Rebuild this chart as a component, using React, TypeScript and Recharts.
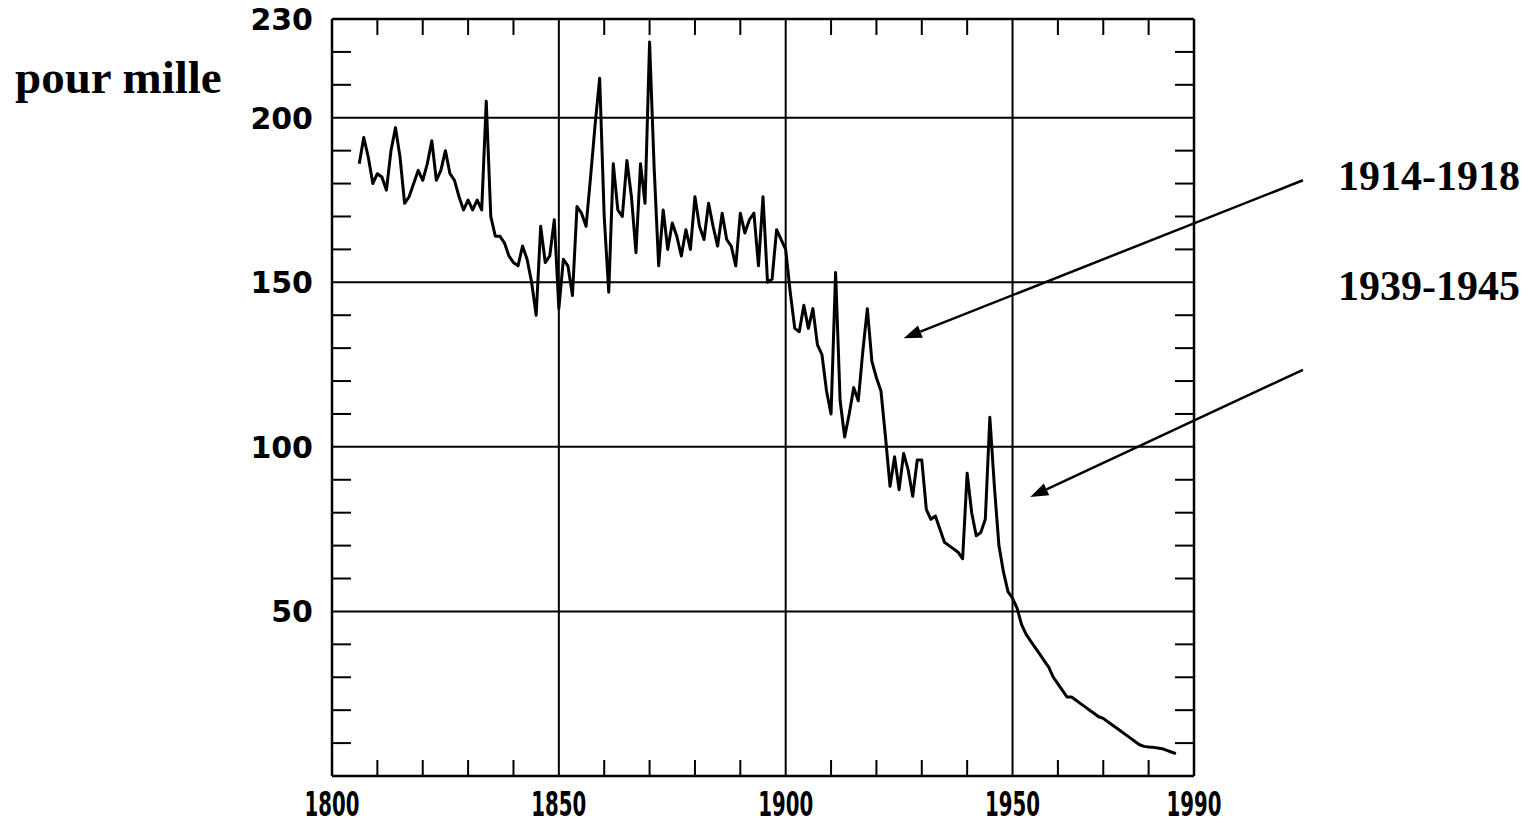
import { LineChart, Line, XAxis, YAxis, CartesianGrid, ReferenceLine } from "recharts";

// infant mortality, per thousand births, one value per year from 1806
const firstYear = 1806;
const rates = [
  186, 194, 188, 180, 183, 182, 178, 190, 197, 188, // 1806-1815
  174, 176, 180, 184, 181, 186, 193, 181, 184, 190, // 1816-1825
  183, 181, 176, 172, 175, 172, 175, 172, 205, 170, // 1826-1835
  164, 164, 162, 158, 156, 155, 161, 157, 150, 140, // 1836-1845
  167, 156, 158, 169, 142, 157, 155, 146, 173, 171, // 1846-1855
  167, 182, 198, 212, 170, 147, 186, 172, 170, 187, // 1856-1865
  176, 159, 186, 174, 223, 185, 155, 172, 160, 168, // 1866-1875
  164, 158, 166, 160, 176, 167, 163, 174, 167, 161, // 1876-1885
  171, 163, 161, 155, 171, 165, 169, 171, 155, 176, // 1886-1895
  150, 151, 166, 163, 160, 147, 136, 135, 143, 136, // 1896-1905
  142, 131, 128, 117, 110, 153, 114, 103, 110, 118, // 1906-1915
  114, 129, 142, 126, 121, 117, 103, 88, 97, 87, // 1916-1925
  98, 93, 85, 96, 96, 81, 78, 79, 75, 71, // 1926-1935
  70, 69, 68, 66, 92, 80, 73, 74, 78, 109, // 1936-1945
  88, 70, 62, 56, 54, 51, 46, 43, 41, 39, // 1946-1955
  37, 35, 33, 30, 28, 26, 24, 24, 23, 22, // 1956-1965
  21, 20, 19, 18, 17.5, 16.5, 15.5, 14.5, 13.5, 12.5, // 1966-1975
  11.5, 10.5, 9.5, 9, 8.8, 8.7, 8.5, 8.3, 7.8, 7.3, // 1976-1985
  6.8, // 1986
];

const majorYears = [1800, 1850, 1900, 1950, 1990];
const minorYears = [1810, 1820, 1830, 1840, 1860, 1870, 1880, 1890, 1910, 1920, 1930, 1940, 1960, 1970, 1980];
const majorRates = [50, 100, 150, 200, 230];
const minorRates = [10, 20, 30, 40, 60, 70, 80, 90, 110, 120, 130, 140, 160, 170, 180, 190, 210, 220];

// annotation arrows in data units (year, rate), tail then head
const arrows = [
  { from: { x: 2014, y: 181 }, to: { x: 1926, y: 133 } },
  { from: { x: 2014, y: 123.4 }, to: { x: 1953.9, y: 84.8 } },
];
const periods = ["1914-1918", "1939-1945"];
const unitLabel = "pour mille";

const data = rates.map((rate, i) => ({ year: firstYear + i, rate }));

const XLabel = (props: any) => {
  const { x, y, payload } = props;
  return (
    <text
      x={x}
      y={y + 32}
      textAnchor="middle"
      textLength={55}
      lengthAdjust="spacingAndGlyphs"
      fontFamily="'DejaVu Sans', sans-serif"
      fontWeight="bold"
      fontSize={33}
      fill="#000"
    >
      {payload.value}
    </text>
  );
};

const YLabel = (props: any) => {
  const { x, y, payload } = props;
  return (
    <text x={x} y={y} dy={11} textAnchor="end" fontFamily="'DejaVu Sans', sans-serif" fontWeight="bold" fontSize={30} fill="#000">
      {payload.value}
    </text>
  );
};

const Arrow = (props: any) => {
  const { x1, y1, x2, y2 } = props;
  const a = Math.atan2(y2 - y1, x2 - x1);
  const len = 18;
  const w = 6.5;
  const bx = x2 - len * Math.cos(a);
  const by = y2 - len * Math.sin(a);
  const pts = `${x2},${y2} ${bx + w * Math.sin(a)},${by - w * Math.cos(a)} ${bx - w * Math.sin(a)},${by + w * Math.cos(a)}`;
  return (
    <g>
      <line x1={x1} y1={y1} x2={bx} y2={by} stroke="#000" strokeWidth={2.5} />
      <polygon points={pts} fill="#000" />
    </g>
  );
};

const frame = { stroke: "#000", strokeWidth: 2.5 };
const minorTick = { stroke: "#000", strokeWidth: 2 };
const blank = () => "";

export default function App() {
  return (
    <div style={{ position: "absolute", left: 0, top: 0, width: 1537, height: 823, background: "#fff" }}>
      <LineChart width={1537} height={823} data={data} margin={{ top: 19, right: 343, left: 252, bottom: 7 }}>
        <CartesianGrid stroke="#000" strokeWidth={2} />
        <XAxis
          dataKey="year"
          type="number"
          domain={[1800, 1990]}
          ticks={majorYears}
          interval={0}
          height={40}
          tickLine={false}
          axisLine={frame}
          tick={<XLabel />}
        />
        <XAxis
          xAxisId="bottomMinor"
          dataKey="year"
          type="number"
          domain={[1800, 1990]}
          ticks={minorYears}
          interval={0}
          orientation="bottom"
          mirror
          tickFormatter={blank}
          tickSize={16}
          tickLine={minorTick}
          axisLine={false}
        />
        <XAxis
          xAxisId="top"
          dataKey="year"
          type="number"
          domain={[1800, 1990]}
          ticks={minorYears}
          interval={0}
          orientation="top"
          mirror
          tickFormatter={blank}
          tickSize={16}
          tickLine={minorTick}
          axisLine={frame}
        />
        <YAxis
          dataKey="rate"
          type="number"
          domain={[0, 230]}
          ticks={majorRates}
          interval={0}
          width={80}
          tickLine={false}
          tickMargin={13}
          axisLine={frame}
          tick={<YLabel />}
        />
        <YAxis
          yAxisId="leftMinor"
          dataKey="rate"
          type="number"
          domain={[0, 230]}
          ticks={minorRates}
          interval={0}
          orientation="left"
          mirror
          tickFormatter={blank}
          tickSize={19}
          tickLine={minorTick}
          axisLine={false}
        />
        <YAxis
          yAxisId="right"
          dataKey="rate"
          type="number"
          domain={[0, 230]}
          ticks={minorRates}
          interval={0}
          orientation="right"
          mirror
          tickFormatter={blank}
          tickSize={19}
          tickLine={minorTick}
          axisLine={frame}
        />
        <Line
          type="linear"
          dataKey="rate"
          stroke="#000"
          strokeWidth={3}
          strokeLinejoin="round"
          dot={false}
          isAnimationActive={false}
        />
        {arrows.map((a, i) => (
          <ReferenceLine key={i} segment={[a.from, a.to]} ifOverflow="visible" shape={Arrow} />
        ))}
      </LineChart>
      <svg width={1537} height={823} style={{ position: "absolute", left: 0, top: 0, pointerEvents: "none" }}>
        <g fontFamily="'Liberation Serif', 'Times New Roman', serif" fontWeight="bold" fill="#000">
          <text x={15} y={93} fontSize={47}>{unitLabel}</text>
          <text x={1338} y={190} fontSize={42}>{periods[0]}</text>
          <text x={1338} y={300} fontSize={42}>{periods[1]}</text>
        </g>
      </svg>
    </div>
  );
}
